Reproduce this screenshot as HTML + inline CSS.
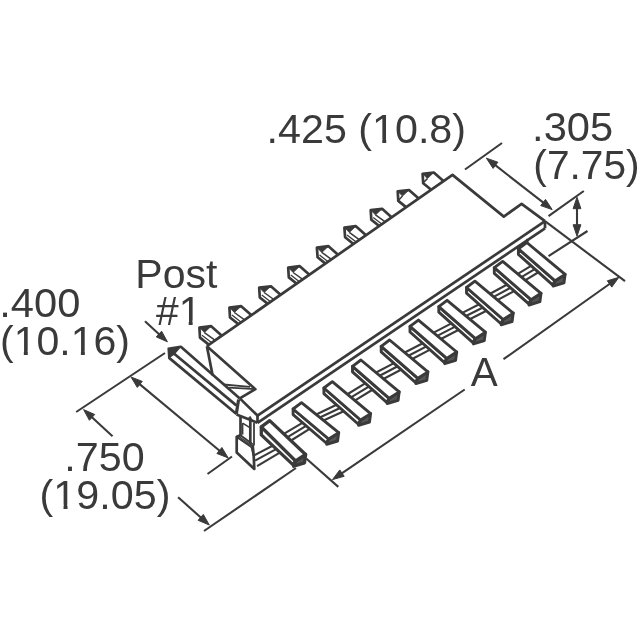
<!DOCTYPE html>
<html><head><meta charset="utf-8"><title>Connector drawing</title>
<style>
html,body{margin:0;padding:0;background:#fff;}
body{width:640px;height:640px;overflow:hidden;}
svg{display:block;filter:grayscale(1) blur(0.35px);}
svg line, svg polyline, svg polygon{stroke:#3a3a3a;stroke-linecap:butt;stroke-linejoin:round;}
svg .rj{stroke-linejoin:round;}
svg text{font-family:"Liberation Sans",sans-serif;font-size:38.4px;fill:#3a3a3a;}
</style></head>
<body>
<svg width="640" height="640" viewBox="0 0 640 640">
<rect x="0" y="0" width="640" height="640" fill="#ffffff" stroke="none"/>
<g id="drawing">
<polygon points="199.4,327.6 211.2,326.2 221.9,335.7 209.4,345.1 200.0,337.6" fill="#fff" stroke-width="2.7"/>
<polygon points="199.4,327.6 211.2,326.2 204.4,332.6" fill="#3a3a3a" stroke-width="0.8"/>
<line x1="204.4" y1="332.6" x2="215.6" y2="340.7" stroke-width="1.5" />
<line x1="202.0" y1="335.2" x2="211.8" y2="342.8" stroke-width="1.3" />
<polygon points="229.4,307.6 241.2,306.2 251.8,315.6 239.4,324.9 230.0,317.5" fill="#fff" stroke-width="2.7"/>
<polygon points="229.4,307.6 241.2,306.2 234.4,312.5" fill="#3a3a3a" stroke-width="0.8"/>
<line x1="234.4" y1="312.5" x2="245.6" y2="320.6" stroke-width="1.5" />
<line x1="232.0" y1="315.1" x2="241.8" y2="322.7" stroke-width="1.3" />
<polygon points="259.2,287.6 270.9,286.3 281.4,295.6 269.1,304.9 259.8,297.5" fill="#fff" stroke-width="2.7"/>
<polygon points="259.2,287.6 270.9,286.3 264.1,292.5" fill="#3a3a3a" stroke-width="0.8"/>
<line x1="264.1" y1="292.5" x2="275.2" y2="300.5" stroke-width="1.5" />
<line x1="261.8" y1="295.1" x2="271.5" y2="302.6" stroke-width="1.3" />
<polygon points="288.2,267.6 299.8,266.2 310.3,275.5 298.0,284.7 288.8,277.4" fill="#fff" stroke-width="2.7"/>
<polygon points="288.2,267.6 299.8,266.2 293.1,272.5" fill="#3a3a3a" stroke-width="0.8"/>
<line x1="293.1" y1="272.5" x2="304.1" y2="280.4" stroke-width="1.5" />
<line x1="290.8" y1="275.0" x2="300.4" y2="282.5" stroke-width="1.3" />
<polygon points="316.9,247.6 328.5,246.2 338.9,255.5 326.7,264.6 317.6,257.3" fill="#fff" stroke-width="2.7"/>
<polygon points="316.9,247.6 328.5,246.2 321.8,252.4" fill="#3a3a3a" stroke-width="0.8"/>
<line x1="321.8" y1="252.4" x2="332.8" y2="260.3" stroke-width="1.5" />
<line x1="319.5" y1="255.0" x2="329.1" y2="262.4" stroke-width="1.3" />
<polygon points="344.4,227.6 355.9,226.2 366.3,235.4 354.1,244.5 345.1,237.2" fill="#fff" stroke-width="2.7"/>
<polygon points="344.4,227.6 355.9,226.2 349.3,232.4" fill="#3a3a3a" stroke-width="0.8"/>
<line x1="349.3" y1="232.4" x2="360.2" y2="240.3" stroke-width="1.5" />
<line x1="347.0" y1="234.9" x2="356.5" y2="242.3" stroke-width="1.3" />
<polygon points="370.7,210.1 382.1,208.8 392.4,217.9 380.3,226.9 371.3,219.7" fill="#fff" stroke-width="2.7"/>
<polygon points="370.7,210.1 382.1,208.8 375.5,214.9" fill="#3a3a3a" stroke-width="0.8"/>
<line x1="375.5" y1="214.9" x2="386.3" y2="222.7" stroke-width="1.5" />
<line x1="373.2" y1="217.4" x2="382.7" y2="224.7" stroke-width="1.3" />
<polygon points="397.7,191.3 409.0,190.0 419.3,199.1 407.3,208.1 398.3,200.9" fill="#fff" stroke-width="2.7"/>
<polygon points="397.7,191.3 409.0,190.0 402.5,196.1" fill="#3a3a3a" stroke-width="0.8"/>
<line x1="402.5" y1="196.1" x2="398.8" y2="199.9" stroke-width="1.5" />
<polygon points="422.6,173.8 433.8,172.5 444.0,181.5 432.1,190.5 423.2,183.3" fill="#fff" stroke-width="2.7"/>
<polygon points="422.6,173.8 433.8,172.5 427.4,178.6" fill="#3a3a3a" stroke-width="0.8"/>
<line x1="427.4" y1="178.6" x2="423.7" y2="182.3" stroke-width="1.5" />
<polygon points="206.9,346.2 452.5,174.9 503.8,216.6 521.6,203.8 545.0,221.2 257.5,415.6 239.8,398.4 255.4,389.2" fill="#fff" stroke="none" style="stroke:none"/>
<polyline points="206.9,346.2 452.5,174.9 503.8,216.6 521.6,203.8 545.0,221.2" stroke-width="2.7" fill="none"/>
<line x1="545.0" y1="221.2" x2="257.5" y2="415.6" stroke-width="2.7" />
<line x1="545.0" y1="228.3" x2="257.5" y2="422.8" stroke-width="2.7" />
<line x1="545.0" y1="221.2" x2="545.0" y2="228.3" stroke-width="2.7" />
<line x1="257.5" y1="415.6" x2="257.5" y2="422.8" stroke-width="2.7" />
<polyline points="206.9,346.2 255.4,389.2 239.8,398.4" stroke-width="2.7" fill="none"/>
<line x1="239.8" y1="398.4" x2="258.2" y2="416.2" stroke-width="2.7" />
<line x1="206.9" y1="346.2" x2="212.6" y2="375.2" stroke-width="2.7" />
<line x1="223.6" y1="384.5" x2="250.0" y2="386.9" stroke-width="1.8" />
<line x1="229.0" y1="387.6" x2="255.4" y2="389.2" stroke-width="1.8" />
<polygon points="168.2,348.2 180.6,346.4 174.2,353.8 168.8,357.6" fill="#3a3a3a" stroke-width="1.6"/>
<line x1="180.6" y1="346.4" x2="239.8" y2="398.4" stroke-width="2.7" />
<line x1="174.2" y1="353.8" x2="236.3" y2="405.4" stroke-width="2.7" />
<line x1="168.8" y1="357.6" x2="236.5" y2="414.0" stroke-width="2.7" />
<line x1="238.6" y1="399.5" x2="236.3" y2="414.0" stroke-width="3.2" />
<line x1="236.5" y1="414.6" x2="257.5" y2="422.8" stroke-width="2.7" />
<line x1="240.5" y1="416.6" x2="240.5" y2="435.6" stroke-width="2.7" />
<line x1="250.3" y1="420.5" x2="250.3" y2="443.7" stroke-width="2.7" />
<line x1="254.0" y1="422.8" x2="254.0" y2="445.6" stroke-width="1.8" />
<line x1="249.4" y1="416.6" x2="252.0" y2="421.4" stroke-width="2.4" />
<line x1="242.6" y1="423.1" x2="242.6" y2="434.6" stroke-width="1.6" />
<line x1="242.6" y1="423.1" x2="250.3" y2="427.9" stroke-width="1.6" />
<polyline points="240.5,435.3 236.7,436.8 236.7,452.4 254.3,468.9 253.7,455.6 252.6,444.4" stroke-width="2.7" fill="none"/>
<line x1="236.7" y1="436.8" x2="251.3" y2="446.8" stroke-width="2.0" />
<line x1="240.5" y1="435.3" x2="252.6" y2="444.2" stroke-width="2.0" />
<line x1="238.6" y1="436.2" x2="251.9" y2="445.5" stroke-width="1.4" />
<line x1="251.3" y1="446.8" x2="253.5" y2="456.0" stroke-width="1.6" />
<line x1="517.4" y1="274.2" x2="533.1" y2="264.6" stroke-width="2.1" />
<line x1="521.0" y1="277.4" x2="536.8" y2="267.8" stroke-width="2.1" />
<line x1="524.7" y1="280.6" x2="540.4" y2="271.0" stroke-width="2.1" />
<line x1="489.6" y1="294.0" x2="509.0" y2="283.5" stroke-width="2.1" />
<line x1="493.2" y1="297.2" x2="512.6" y2="286.7" stroke-width="2.1" />
<line x1="496.9" y1="300.4" x2="516.3" y2="289.9" stroke-width="2.1" />
<line x1="461.8" y1="313.1" x2="481.2" y2="303.3" stroke-width="2.1" />
<line x1="465.5" y1="316.3" x2="484.9" y2="306.5" stroke-width="2.1" />
<line x1="469.2" y1="319.5" x2="488.5" y2="309.7" stroke-width="2.1" />
<line x1="433.1" y1="332.9" x2="453.4" y2="322.4" stroke-width="2.1" />
<line x1="436.8" y1="336.1" x2="457.1" y2="325.6" stroke-width="2.1" />
<line x1="440.4" y1="339.3" x2="460.8" y2="328.8" stroke-width="2.1" />
<line x1="404.3" y1="352.8" x2="424.7" y2="342.2" stroke-width="2.1" />
<line x1="408.0" y1="356.0" x2="428.4" y2="345.4" stroke-width="2.1" />
<line x1="411.7" y1="359.2" x2="432.0" y2="348.6" stroke-width="2.1" />
<line x1="375.6" y1="372.8" x2="395.9" y2="362.1" stroke-width="2.1" />
<line x1="379.2" y1="376.0" x2="399.6" y2="365.3" stroke-width="2.1" />
<line x1="382.9" y1="379.2" x2="403.3" y2="368.5" stroke-width="2.1" />
<line x1="347.0" y1="394.5" x2="367.2" y2="382.1" stroke-width="2.1" />
<line x1="350.6" y1="397.7" x2="370.9" y2="385.3" stroke-width="2.1" />
<line x1="354.3" y1="400.9" x2="374.5" y2="388.5" stroke-width="2.1" />
<line x1="315.7" y1="414.7" x2="338.6" y2="403.8" stroke-width="2.1" />
<line x1="319.3" y1="417.7" x2="342.2" y2="407.0" stroke-width="2.1" />
<line x1="322.9" y1="420.7" x2="345.9" y2="410.2" stroke-width="2.1" />
<line x1="283.4" y1="434.2" x2="304.5" y2="421.6" stroke-width="2.1" />
<line x1="286.8" y1="437.6" x2="308.1" y2="424.6" stroke-width="2.1" />
<line x1="290.3" y1="441.0" x2="311.6" y2="427.6" stroke-width="2.1" />
<line x1="253.6" y1="455.6" x2="275.0" y2="444.5" stroke-width="2.1" />
<line x1="255.1" y1="460.6" x2="278.4" y2="447.9" stroke-width="2.1" />
<line x1="257.1" y1="466.1" x2="281.9" y2="451.3" stroke-width="2.1" />
<line x1="526.9" y1="242.7" x2="527.5" y2="239.0" stroke-width="2.7" />
<polygon points="518.4,248.8 518.4,254.4 552.6,284.8 555.1,280.8" fill="#fff" stroke-width="2.9" class="rj"/>
<polygon points="555.1,280.8 565.1,274.4 564.0,282.8 553.1,286.1" fill="#555" stroke-width="2.9" class="rj"/>
<polygon points="518.4,248.8 526.8,242.5 565.1,274.4 555.1,280.8" fill="#fff" stroke-width="2.9" class="rj"/>
<polygon points="494.3,267.7 494.3,273.3 528.5,303.7 531.0,299.7" fill="#fff" stroke-width="2.9" class="rj"/>
<polygon points="531.0,299.7 541.0,293.3 539.9,301.7 529.0,305.0" fill="#555" stroke-width="2.9" class="rj"/>
<polygon points="494.3,267.7 502.7,261.4 541.0,293.3 531.0,299.7" fill="#fff" stroke-width="2.9" class="rj"/>
<polygon points="466.5,287.5 466.5,293.1 500.7,323.5 503.2,319.5" fill="#fff" stroke-width="2.9" class="rj"/>
<polygon points="503.2,319.5 513.2,313.1 512.1,321.5 501.2,324.8" fill="#555" stroke-width="2.9" class="rj"/>
<polygon points="466.5,287.5 474.9,281.2 513.2,313.1 503.2,319.5" fill="#fff" stroke-width="2.9" class="rj"/>
<polygon points="438.8,306.6 438.8,312.2 472.9,342.6 475.4,338.6" fill="#fff" stroke-width="2.9" class="rj"/>
<polygon points="475.4,338.6 485.4,332.2 484.3,340.6 473.4,343.9" fill="#555" stroke-width="2.9" class="rj"/>
<polygon points="438.8,306.6 447.1,300.3 485.4,332.2 475.4,338.6" fill="#fff" stroke-width="2.9" class="rj"/>
<polygon points="410.0,326.4 410.0,332.0 444.2,362.4 446.7,358.4" fill="#fff" stroke-width="2.9" class="rj"/>
<polygon points="446.7,358.4 456.7,352.0 455.6,360.4 444.7,363.7" fill="#555" stroke-width="2.9" class="rj"/>
<polygon points="410.0,326.4 418.4,320.1 456.7,352.0 446.7,358.4" fill="#fff" stroke-width="2.9" class="rj"/>
<polygon points="381.2,346.3 381.2,351.9 415.4,382.3 417.9,378.3" fill="#fff" stroke-width="2.9" class="rj"/>
<polygon points="417.9,378.3 427.9,371.9 426.8,380.3 415.9,383.6" fill="#555" stroke-width="2.9" class="rj"/>
<polygon points="381.2,346.3 389.6,340.0 427.9,371.9 417.9,378.3" fill="#fff" stroke-width="2.9" class="rj"/>
<polygon points="352.5,366.3 352.5,371.9 386.7,402.3 389.2,398.3" fill="#fff" stroke-width="2.9" class="rj"/>
<polygon points="389.2,398.3 399.2,391.9 398.1,400.3 387.2,403.6" fill="#555" stroke-width="2.9" class="rj"/>
<polygon points="352.5,366.3 360.9,360.0 399.2,391.9 389.2,398.3" fill="#fff" stroke-width="2.9" class="rj"/>
<polygon points="323.9,388.0 323.9,393.6 358.1,424.0 360.6,420.0" fill="#fff" stroke-width="2.9" class="rj"/>
<polygon points="360.6,420.0 370.6,413.6 369.5,422.0 358.6,425.3" fill="#555" stroke-width="2.9" class="rj"/>
<polygon points="323.9,388.0 332.3,381.7 370.6,413.6 360.6,420.0" fill="#fff" stroke-width="2.9" class="rj"/>
<polygon points="293.1,409.0 293.1,414.6 326.2,443.0 328.7,439.0" fill="#fff" stroke-width="2.9" class="rj"/>
<polygon points="328.7,439.0 338.7,432.6 337.6,441.0 326.7,444.3" fill="#555" stroke-width="2.9" class="rj"/>
<polygon points="293.1,409.0 301.5,402.7 338.7,432.6 328.7,439.0" fill="#fff" stroke-width="2.9" class="rj"/>
<polygon points="261.3,426.9 261.3,434.9 293.1,464.9 295.6,460.9" fill="#fff" stroke-width="3.3" class="rj"/>
<polygon points="295.6,460.9 305.6,454.5 304.5,462.9 293.6,466.2" fill="#555" stroke-width="3.3" class="rj"/>
<polygon points="261.3,426.9 269.7,420.6 305.6,454.5 295.6,460.9" fill="#fff" stroke-width="3.3" class="rj"/>
<line x1="465.0" y1="169.5" x2="502.0" y2="143.0" stroke-width="2.1" />
<polygon points="486.4,158.2 493.1,168.4 497.9,162.2" fill="#3a3a3a" stroke="none"/>
<polygon points="552.2,209.6 545.5,199.4 540.7,205.6" fill="#3a3a3a" stroke="none"/>
<line x1="492.7" y1="163.2" x2="545.9" y2="204.6" stroke-width="2.1" />
<line x1="548.5" y1="216.2" x2="583.8" y2="191.0" stroke-width="2.1" />
<line x1="548.5" y1="256.2" x2="587.5" y2="231.0" stroke-width="2.1" />
<polygon points="577.0,197.2 573.1,208.7 580.9,208.7" fill="#3a3a3a" stroke="none"/>
<polygon points="577.0,236.2 580.9,224.7 573.1,224.7" fill="#3a3a3a" stroke="none"/>
<line x1="577.0" y1="205.2" x2="577.0" y2="228.1" stroke-width="2.1" />
<line x1="545.0" y1="221.2" x2="625.0" y2="281.2" stroke-width="2.1" />
<polygon points="618.9,277.3 607.3,280.8 611.8,287.1" fill="#3a3a3a" stroke="none"/>
<line x1="612.3" y1="282.0" x2="503.5" y2="359.2" stroke-width="2.1" />
<polygon points="332.5,479.6 344.2,476.3 339.8,469.9" fill="#3a3a3a" stroke="none"/>
<line x1="339.2" y1="475.1" x2="464.7" y2="389.5" stroke-width="2.1" />
<line x1="306.2" y1="458.5" x2="338.3" y2="486.9" stroke-width="2.1" />
<line x1="296.0" y1="468.0" x2="204.0" y2="531.0" stroke-width="2.1" />
<polygon points="209.3,525.0 203.3,514.4 198.1,520.3" fill="#3a3a3a" stroke="none"/>
<line x1="203.3" y1="519.7" x2="178.1" y2="497.3" stroke-width="2.1" />
<line x1="165.0" y1="353.0" x2="76.2" y2="412.0" stroke-width="2.1" />
<polygon points="83.6,409.6 89.4,420.3 94.7,414.5" fill="#3a3a3a" stroke="none"/>
<line x1="89.5" y1="415.1" x2="112.5" y2="436.2" stroke-width="2.1" />
<polygon points="131.0,377.0 137.3,387.4 142.3,381.4" fill="#3a3a3a" stroke="none"/>
<polygon points="228.2,457.9 221.9,447.5 216.9,453.5" fill="#3a3a3a" stroke="none"/>
<line x1="137.2" y1="382.1" x2="222.0" y2="452.8" stroke-width="2.1" />
<line x1="207.5" y1="474.0" x2="232.0" y2="456.5" stroke-width="2.1" />
<polygon points="167.4,341.8 161.6,331.2 156.3,336.9" fill="#3a3a3a" stroke="none"/>
<line x1="161.5" y1="336.4" x2="145.0" y2="321.2" stroke-width="2.1" />
</g>
<g id="labels">
<g transform="translate(266.54 143.3) scale(1.0748 1.06)"><text x="0" y="0">.425 (10.8)</text><rect x="99.89" y="-3.75" width="7.78" height="4.4" fill="#fff" stroke="none"/><rect x="111.36" y="-3.75" width="7.43" height="4.4" fill="#fff" stroke="none"/></g>
<g transform="translate(532.10 141.0) scale(1.0849 1.06)"><text x="0" y="0">.305</text></g>
<g transform="translate(533.35 178.7) scale(1.0597 1.06)"><text x="0" y="0">(7.75)</text></g>
<g transform="translate(135.28 287.5) scale(1.0689 1.06)"><text x="0" y="0">Post</text></g>
<g transform="translate(155.98 324.5) scale(1.0617 1.06)"><text x="0" y="0">#1</text><rect x="23.05" y="-3.75" width="7.78" height="4.4" fill="#fff" stroke="none"/><rect x="34.52" y="-3.75" width="7.43" height="4.4" fill="#fff" stroke="none"/></g>
<g transform="translate(-0.80 317.0) scale(1.0860 1.06)"><text x="0" y="0">.400</text></g>
<g transform="translate(0.03 354.6) scale(1.0690 1.06)"><text x="0" y="0">(10.16)</text><rect x="14.49" y="-3.75" width="7.78" height="4.4" fill="#fff" stroke="none"/><rect x="25.96" y="-3.75" width="7.43" height="4.4" fill="#fff" stroke="none"/><rect x="67.86" y="-3.75" width="7.78" height="4.4" fill="#fff" stroke="none"/><rect x="79.33" y="-3.75" width="7.43" height="4.4" fill="#fff" stroke="none"/></g>
<g transform="translate(64.34 470.9) scale(1.0753 1.06)"><text x="0" y="0">.750</text></g>
<g transform="translate(39.61 508.7) scale(1.0749 1.06)"><text x="0" y="0">(19.05)</text><rect x="14.49" y="-3.75" width="7.78" height="4.4" fill="#fff" stroke="none"/><rect x="25.96" y="-3.75" width="7.43" height="4.4" fill="#fff" stroke="none"/></g>
<g transform="translate(470.84 385.8) scale(1.0535 1.06)"><text x="0" y="0">A</text></g>
</g>
</svg>
</body></html>
